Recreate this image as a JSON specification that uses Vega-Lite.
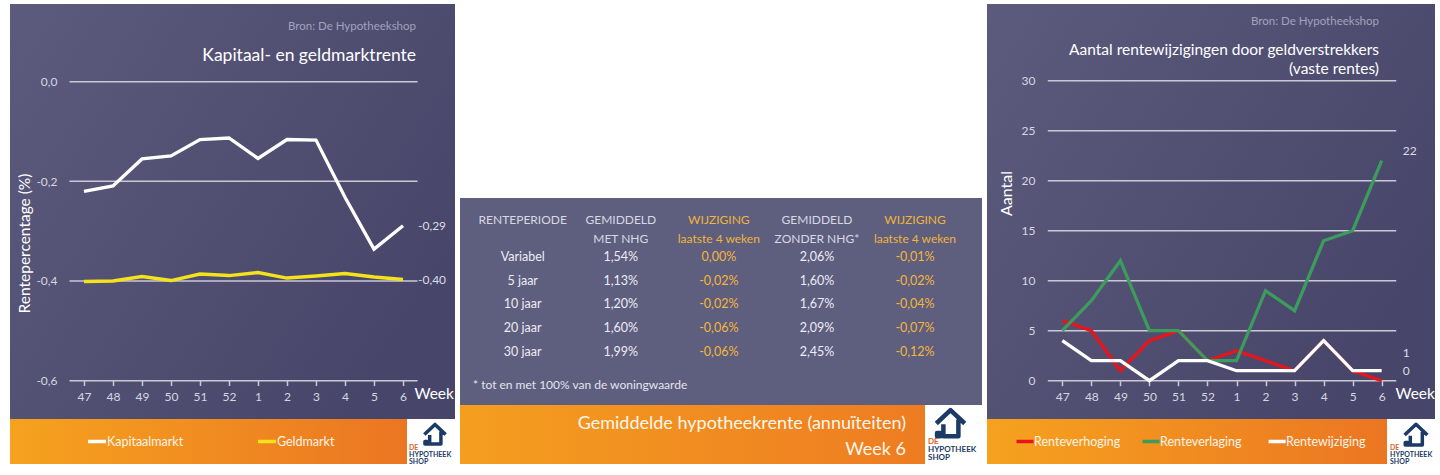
{
  "$schema": "https://vega.github.io/schema/vega-lite/v6.json",
  "background": "#ffffff",
  "padding": {"left": 10, "top": 4, "right": 0, "bottom": 0},
  "spacing": 5,
  "config": {
    "font": "Lato",
    "view": {"stroke": null},
    "legend": {"disable": true},
    "title": {"fontWeight": "normal", "subtitleFontWeight": "normal"},
    "locale": {"number": {"decimal": ",", "thousands": ".", "grouping": [3], "currency": ["€", ""], "minus": "-"}}
  },
  "datasets": {
    "rente": [
      {"week": "47", "reeks": "Kapitaalmarkt", "waarde": -0.220},
      {"week": "48", "reeks": "Kapitaalmarkt", "waarde": -0.209},
      {"week": "49", "reeks": "Kapitaalmarkt", "waarde": -0.155},
      {"week": "50", "reeks": "Kapitaalmarkt", "waarde": -0.149},
      {"week": "51", "reeks": "Kapitaalmarkt", "waarde": -0.116},
      {"week": "52", "reeks": "Kapitaalmarkt", "waarde": -0.113},
      {"week": "1", "reeks": "Kapitaalmarkt", "waarde": -0.154},
      {"week": "2", "reeks": "Kapitaalmarkt", "waarde": -0.116},
      {"week": "3", "reeks": "Kapitaalmarkt", "waarde": -0.117},
      {"week": "4", "reeks": "Kapitaalmarkt", "waarde": -0.232},
      {"week": "5", "reeks": "Kapitaalmarkt", "waarde": -0.336},
      {"week": "6", "reeks": "Kapitaalmarkt", "waarde": -0.289},
      {"week": "47", "reeks": "Geldmarkt", "waarde": -0.401},
      {"week": "48", "reeks": "Geldmarkt", "waarde": -0.400},
      {"week": "49", "reeks": "Geldmarkt", "waarde": -0.391},
      {"week": "50", "reeks": "Geldmarkt", "waarde": -0.399},
      {"week": "51", "reeks": "Geldmarkt", "waarde": -0.386},
      {"week": "52", "reeks": "Geldmarkt", "waarde": -0.389},
      {"week": "1", "reeks": "Geldmarkt", "waarde": -0.383},
      {"week": "2", "reeks": "Geldmarkt", "waarde": -0.394},
      {"week": "3", "reeks": "Geldmarkt", "waarde": -0.390},
      {"week": "4", "reeks": "Geldmarkt", "waarde": -0.385},
      {"week": "5", "reeks": "Geldmarkt", "waarde": -0.392},
      {"week": "6", "reeks": "Geldmarkt", "waarde": -0.397}
    ],
    "wijz": [
      {"week": "47", "reeks": "Renteverhoging", "aantal": 6},
      {"week": "48", "reeks": "Renteverhoging", "aantal": 5},
      {"week": "49", "reeks": "Renteverhoging", "aantal": 1},
      {"week": "50", "reeks": "Renteverhoging", "aantal": 4},
      {"week": "51", "reeks": "Renteverhoging", "aantal": 5},
      {"week": "52", "reeks": "Renteverhoging", "aantal": 2},
      {"week": "1", "reeks": "Renteverhoging", "aantal": 3},
      {"week": "2", "reeks": "Renteverhoging", "aantal": 2},
      {"week": "3", "reeks": "Renteverhoging", "aantal": 1},
      {"week": "4", "reeks": "Renteverhoging", "aantal": 4},
      {"week": "5", "reeks": "Renteverhoging", "aantal": 1},
      {"week": "6", "reeks": "Renteverhoging", "aantal": 0},
      {"week": "47", "reeks": "Renteverlaging", "aantal": 5},
      {"week": "48", "reeks": "Renteverlaging", "aantal": 8},
      {"week": "49", "reeks": "Renteverlaging", "aantal": 12},
      {"week": "50", "reeks": "Renteverlaging", "aantal": 5},
      {"week": "51", "reeks": "Renteverlaging", "aantal": 5},
      {"week": "52", "reeks": "Renteverlaging", "aantal": 2},
      {"week": "1", "reeks": "Renteverlaging", "aantal": 2},
      {"week": "2", "reeks": "Renteverlaging", "aantal": 9},
      {"week": "3", "reeks": "Renteverlaging", "aantal": 7},
      {"week": "4", "reeks": "Renteverlaging", "aantal": 14},
      {"week": "5", "reeks": "Renteverlaging", "aantal": 15},
      {"week": "6", "reeks": "Renteverlaging", "aantal": 22},
      {"week": "47", "reeks": "Rentewijziging", "aantal": 4},
      {"week": "48", "reeks": "Rentewijziging", "aantal": 2},
      {"week": "49", "reeks": "Rentewijziging", "aantal": 2},
      {"week": "50", "reeks": "Rentewijziging", "aantal": 0},
      {"week": "51", "reeks": "Rentewijziging", "aantal": 2},
      {"week": "52", "reeks": "Rentewijziging", "aantal": 2},
      {"week": "1", "reeks": "Rentewijziging", "aantal": 1},
      {"week": "2", "reeks": "Rentewijziging", "aantal": 1},
      {"week": "3", "reeks": "Rentewijziging", "aantal": 1},
      {"week": "4", "reeks": "Rentewijziging", "aantal": 4},
      {"week": "5", "reeks": "Rentewijziging", "aantal": 1},
      {"week": "6", "reeks": "Rentewijziging", "aantal": 1}
    ],
    "kop": [
      {"rij": "kop", "kolom": "periode", "tekst": "RENTEPERIODE"},
      {"rij": "kop", "kolom": "met", "tekst": "GEMIDDELD\nMET NHG"},
      {"rij": "kop", "kolom": "wijz_met", "tekst": "WIJZIGING\nlaatste 4 weken"},
      {"rij": "kop", "kolom": "zonder", "tekst": "GEMIDDELD\nZONDER NHG*"},
      {"rij": "kop", "kolom": "wijz_zonder", "tekst": "WIJZIGING\nlaatste 4 weken"}
    ],
    "tabel": [
      {"rij": "Variabel", "kolom": "periode", "tekst": "Variabel"},
      {"rij": "Variabel", "kolom": "met", "tekst": "1,54%"},
      {"rij": "Variabel", "kolom": "wijz_met", "tekst": "0,00%"},
      {"rij": "Variabel", "kolom": "zonder", "tekst": "2,06%"},
      {"rij": "Variabel", "kolom": "wijz_zonder", "tekst": "-0,01%"},
      {"rij": "5 jaar", "kolom": "periode", "tekst": "5 jaar"},
      {"rij": "5 jaar", "kolom": "met", "tekst": "1,13%"},
      {"rij": "5 jaar", "kolom": "wijz_met", "tekst": "-0,02%"},
      {"rij": "5 jaar", "kolom": "zonder", "tekst": "1,60%"},
      {"rij": "5 jaar", "kolom": "wijz_zonder", "tekst": "-0,02%"},
      {"rij": "10 jaar", "kolom": "periode", "tekst": "10 jaar"},
      {"rij": "10 jaar", "kolom": "met", "tekst": "1,20%"},
      {"rij": "10 jaar", "kolom": "wijz_met", "tekst": "-0,02%"},
      {"rij": "10 jaar", "kolom": "zonder", "tekst": "1,67%"},
      {"rij": "10 jaar", "kolom": "wijz_zonder", "tekst": "-0,04%"},
      {"rij": "20 jaar", "kolom": "periode", "tekst": "20 jaar"},
      {"rij": "20 jaar", "kolom": "met", "tekst": "1,60%"},
      {"rij": "20 jaar", "kolom": "wijz_met", "tekst": "-0,06%"},
      {"rij": "20 jaar", "kolom": "zonder", "tekst": "2,09%"},
      {"rij": "20 jaar", "kolom": "wijz_zonder", "tekst": "-0,07%"},
      {"rij": "30 jaar", "kolom": "periode", "tekst": "30 jaar"},
      {"rij": "30 jaar", "kolom": "met", "tekst": "1,99%"},
      {"rij": "30 jaar", "kolom": "wijz_met", "tekst": "-0,06%"},
      {"rij": "30 jaar", "kolom": "zonder", "tekst": "2,45%"},
      {"rij": "30 jaar", "kolom": "wijz_zonder", "tekst": "-0,12%"}
    ]
  },
  "hconcat": [
    {
      "spacing": 0,
      "vconcat": [
        {
          "width": 445,
          "height": 415,
          "view": {"fill": {"gradient": "linear", "x1": 0, "y1": 0, "x2": 1, "y2": 0.6, "stops": [{"offset": 0, "color": "#5c5b7d"}, {"offset": 1, "color": "#47466a"}]}, "stroke": null},
          "title": {"text": "Bron: De Hypotheekshop", "subtitle": "Kapitaal- en geldmarktrente", "anchor": "end", "dx": -39, "offset": -60, "fontSize": 11.5, "color": "#a2a2ba", "subtitleFontSize": 17.5, "subtitleColor": "#ffffff", "subtitlePadding": 14},
          "encoding": {
            "x": {"field": "week", "type": "ordinal", "sort": null, "scale": {"type": "point", "domain": ["47", "48", "49", "50", "51", "52", "1", "2", "3", "4", "5", "6"], "range": [74, 393], "padding": 0},
              "axis": {"offset": -38.5, "domain": false, "grid": false, "ticks": true, "tickSize": 5, "tickColor": "#c9c9d4", "tickWidth": 1.5, "labelAngle": 0, "labelPadding": 6, "labelColor": "#d6d6e0", "labelFontSize": 12, "title": "Week", "titleColor": "#ffffff", "titleFontSize": 15.5, "titleFontWeight": "normal", "titleX": 404, "titleY": 13, "titleAlign": "left", "titleBaseline": "middle"}},
            "y": {"field": "waarde", "type": "quantitative", "scale": {"domain": [-0.677, 0.156], "nice": false, "zero": false},
              "axis": {"values": [0, -0.2, -0.4, -0.6], "format": ".1f", "offset": -52, "domain": false, "ticks": false, "grid": false, "labelPadding": 5, "labelColor": "#d6d6e0", "labelFontSize": 12, "title": "Rentepercentage (%)", "titleColor": "#ffffff", "titleFontSize": 15.5, "titleFontWeight": "normal", "titleX": -38, "titleY": 239, "titleAngle": -90, "titleAlign": "center", "titleBaseline": "middle"}}
          },
          "layer": [
            {
              "data": {"values": [{"waarde": 0}, {"waarde": -0.2}, {"waarde": -0.4}, {"waarde": -0.6}]},
              "mark": {"type": "rule", "xOffset": -14.5, "x2Offset": 14.5, "color": "#c9c9d4", "strokeWidth": 1.5},
              "encoding": {
                "x": {"datum": "47", "type": "ordinal"},
                "x2": {"datum": "6"}
              }
            },
            {
              "data": {"name": "rente"},
              "mark": {"type": "line", "strokeWidth": 3.3},
              "encoding": {
                "color": {"field": "reeks", "type": "nominal", "scale": {"domain": ["Kapitaalmarkt", "Geldmarkt", "Renteverhoging", "Renteverlaging", "Rentewijziging"], "range": ["#ffffff", "#f4e21a", "#e8141c", "#3d9b5c", "#ffffff"]}}
              }
            },
            {
              "data": {"name": "rente"},
              "transform": [{"filter": "datum.week === '6'"}],
              "mark": {"type": "text", "align": "left", "baseline": "middle", "dx": 15, "fontSize": 12, "color": "#dcdce6"},
              "encoding": {
                "text": {"field": "waarde", "type": "quantitative", "format": ".2f"}
              }
            }
          ]
        },
        {
          "spacing": 0,
          "hconcat": [
            {
              "width": 397,
              "height": 45,
              "view": {"fill": {"gradient": "linear", "x1": 0, "y1": 0, "x2": 1, "y2": 0, "stops": [{"offset": 0, "color": "#f6a21e"}, {"offset": 1, "color": "#eb7622"}]}, "stroke": null},
              "data": {"values": [{"reeks": "Kapitaalmarkt"}, {"reeks": "Geldmarkt"}]},
              "encoding": {"x": {"field": "reeks", "type": "nominal", "sort": null, "scale": {"type": "point", "domain": ["Kapitaalmarkt", "Geldmarkt"], "padding": 0.668, "align": 0.383}, "axis": null}},
              "layer": [
                {"mark": {"type": "point", "shape": "stroke", "size": 324, "strokeWidth": 3.5, "opacity": 1},
                 "encoding": {"color": {"field": "reeks", "type": "nominal", "scale": {"domain": ["Kapitaalmarkt", "Geldmarkt", "Renteverhoging", "Renteverlaging", "Rentewijziging"], "range": ["#ffffff", "#f4e21a", "#e8141c", "#3d9b5c", "#ffffff"]}}}},
                {"mark": {"type": "text", "align": "left", "baseline": "middle", "dx": 10, "fontSize": 12.5, "color": "#fff4e8"},
                 "encoding": {"text": {"field": "reeks", "type": "nominal"}}}
              ]
            },
            {
              "width": 48,
              "height": 45,
              "view": {"fill": "#ffffff", "stroke": null},
              "data": {"values": [{"merk": "De Hypotheekshop"}]},
              "title": {"text": "DE", "subtitle": ["HYPOTHEEK", "SHOP"], "orient": "bottom", "anchor": "start", "dx": 2, "offset": -20, "fontSize": 7, "fontWeight": "bold", "color": "#e0622a", "subtitleFontSize": 7, "subtitleFontWeight": "bold", "subtitleColor": "#1c3a66", "subtitlePadding": 0, "subtitleLineHeight": 6.5},
              "mark": {"type": "point", "shape": "M-0.9,0 L0,-0.85 L0.9,0 M-0.45,0.05 L-0.45,0.8 L0.5,0.8 L0.5,-0.25 M-0.85,0.6 L-0.65,0.6 L-0.65,0.8 L-0.85,0.8 Z", "size": 560, "filled": false, "strokeWidth": 3.5, "strokeJoin": "round", "color": "#1c3a66", "opacity": 1, "xOffset": 4, "yOffset": -7}
            }
          ]
        }
      ]
    },
    {
      "spacing": 0,
      "vconcat": [
        {
          "width": 522,
          "height": 194,
          "data": {"values": []},
          "mark": "text"
        },
        {
          "width": 522,
          "height": 207,
          "view": {"fill": "#5e5e7f", "stroke": null},
          "title": {"text": "* tot en met 100% van de woningwaarde", "orient": "bottom", "anchor": "start", "dx": 13, "offset": -25, "fontSize": 12, "color": "#e4e4ee"},
          "layer": [
            {
              "data": {"name": "kop"},
              "mark": {"type": "text", "baseline": "top", "dy": -19, "lineBreak": "\n", "lineHeight": 19, "fontSize": 12},
              "encoding": {
                "x": {"field": "kolom", "type": "nominal", "sort": null, "scale": {"type": "point", "domain": ["periode", "met", "wijz_met", "zonder", "wijz_zonder"], "range": [62.7, 455], "padding": 0}, "axis": null},
                "y": {"field": "rij", "type": "nominal", "sort": null, "scale": {"type": "point", "domain": ["kop", "Variabel", "5 jaar", "10 jaar", "20 jaar", "30 jaar"], "range": [35.9, 153.5], "padding": 0}, "axis": null},
                "text": {"field": "tekst", "type": "nominal"},
                "color": {"condition": {"test": "indexof(datum.kolom, 'wijz') === 0", "value": "#f1b43a"}, "value": "#d8d8e2"}
              }
            },
            {
              "data": {"name": "tabel"},
              "mark": {"type": "text", "baseline": "middle", "fontSize": 12.5},
              "encoding": {
                "x": {"field": "kolom", "type": "nominal", "sort": null, "axis": null},
                "y": {"field": "rij", "type": "nominal", "sort": null, "axis": null},
                "text": {"field": "tekst", "type": "nominal"},
                "color": {"condition": {"test": "indexof(datum.kolom, 'wijz') === 0", "value": "#f3b63a"}, "value": "#ececf3"}
              }
            }
          ]
        },
        {
          "spacing": 0,
          "hconcat": [
            {
              "width": 465,
              "height": 59,
              "view": {"fill": {"gradient": "linear", "x1": 0, "y1": 0, "x2": 1, "y2": 0, "stops": [{"offset": 0, "color": "#f49e1f"}, {"offset": 1, "color": "#ee7c22"}]}, "stroke": null},
              "title": {"text": "Gemiddelde hypotheekrente (annuïteiten)", "subtitle": "Week 6", "anchor": "end", "dx": -19, "offset": -54, "fontSize": 18, "color": "#fff6ea", "subtitleFontSize": 18, "subtitleColor": "#fff6ea", "subtitlePadding": 8},
              "data": {"values": []},
              "mark": "text"
            },
            {
              "width": 57,
              "height": 59,
              "view": {"fill": "#ffffff", "stroke": null},
              "data": {"values": [{"merk": "De Hypotheekshop"}]},
              "title": {"text": "DE", "subtitle": ["HYPOTHEEK", "SHOP"], "orient": "bottom", "anchor": "start", "dx": 3, "offset": -26, "fontSize": 8, "fontWeight": "bold", "color": "#e0622a", "subtitleFontSize": 8, "subtitleFontWeight": "bold", "subtitleColor": "#1c3a66", "subtitlePadding": 0, "subtitleLineHeight": 7.5},
              "mark": {"type": "point", "shape": "M-0.9,0 L0,-0.85 L0.9,0 M-0.45,0.05 L-0.45,0.8 L0.5,0.8 L0.5,-0.25 M-0.85,0.6 L-0.65,0.6 L-0.65,0.8 L-0.85,0.8 Z", "size": 1000, "filled": false, "strokeWidth": 4.5, "strokeJoin": "round", "color": "#1c3a66", "opacity": 1, "xOffset": -3, "yOffset": -11}
            }
          ]
        }
      ]
    },
    {
      "spacing": 0,
      "vconcat": [
        {
          "width": 448,
          "height": 415,
          "view": {"fill": {"gradient": "linear", "x1": 0, "y1": 0, "x2": 1, "y2": 0.6, "stops": [{"offset": 0, "color": "#5c5b7d"}, {"offset": 1, "color": "#47466a"}]}, "stroke": null},
          "title": {"text": "Bron: De Hypotheekshop", "subtitle": ["Aantal rentewijzigingen door geldverstrekkers", "(vaste rentes)"], "anchor": "end", "dx": -56, "offset": -73, "fontSize": 11.5, "color": "#a2a2ba", "subtitleFontSize": 15.5, "subtitleColor": "#ffffff", "subtitlePadding": 15, "subtitleLineHeight": 19},
          "encoding": {
            "x": {"field": "week", "type": "ordinal", "sort": null, "scale": {"type": "point", "domain": ["47", "48", "49", "50", "51", "52", "1", "2", "3", "4", "5", "6"], "range": [75.3, 394.7], "padding": 0},
              "axis": {"offset": -38.3, "domain": false, "grid": false, "ticks": true, "tickSize": 5, "tickColor": "#c9c9d4", "tickWidth": 1.5, "labelAngle": 0, "labelPadding": 6, "labelColor": "#d6d6e0", "labelFontSize": 12, "title": "Week", "titleColor": "#ffffff", "titleFontSize": 15.5, "titleFontWeight": "normal", "titleX": 408, "titleY": 12.5, "titleAlign": "left", "titleBaseline": "middle"}},
            "y": {"field": "aantal", "type": "quantitative", "scale": {"domain": [-3.83, 37.67], "nice": false, "zero": false},
              "axis": {"values": [0, 5, 10, 15, 20, 25, 30], "format": "d", "offset": -53, "domain": false, "ticks": false, "grid": false, "labelPadding": 5, "labelColor": "#d6d6e0", "labelFontSize": 12, "title": "Aantal", "titleColor": "#ffffff", "titleFontSize": 16, "titleFontWeight": "normal", "titleX": -34, "titleY": 189, "titleAngle": -90, "titleAlign": "center", "titleBaseline": "middle"}}
          },
          "layer": [
            {
              "data": {"values": [{"aantal": 0}, {"aantal": 5}, {"aantal": 10}, {"aantal": 15}, {"aantal": 20}, {"aantal": 25}, {"aantal": 30}]},
              "mark": {"type": "rule", "xOffset": -14.5, "x2Offset": 14.5, "color": "#c9c9d4", "strokeWidth": 1.5},
              "encoding": {
                "x": {"datum": "47", "type": "ordinal"},
                "x2": {"datum": "6"}
              }
            },
            {
              "data": {"name": "wijz"},
              "mark": {"type": "line", "strokeWidth": 3.3},
              "encoding": {
                "color": {"field": "reeks", "type": "nominal", "scale": {"domain": ["Kapitaalmarkt", "Geldmarkt", "Renteverhoging", "Renteverlaging", "Rentewijziging"], "range": ["#ffffff", "#f4e21a", "#e8141c", "#3d9b5c", "#ffffff"]}}
              }
            },
            {
              "data": {"name": "wijz"},
              "transform": [{"filter": "datum.week === '6' && datum.reeks !== 'Rentewijziging'"}],
              "mark": {"type": "text", "align": "left", "baseline": "middle", "dx": 21, "dy": -10, "fontSize": 12, "color": "#dcdce6"},
              "encoding": {
                "text": {"field": "aantal", "type": "quantitative", "format": "d"}
              }
            },
            {
              "data": {"name": "wijz"},
              "transform": [{"filter": "datum.week === '6' && datum.reeks === 'Rentewijziging'"}],
              "mark": {"type": "text", "align": "left", "baseline": "middle", "dx": 21, "dy": -18, "fontSize": 12, "color": "#dcdce6"},
              "encoding": {
                "text": {"field": "aantal", "type": "quantitative", "format": "d"}
              }
            }
          ]
        },
        {
          "spacing": 0,
          "hconcat": [
            {
              "width": 400,
              "height": 45,
              "view": {"fill": {"gradient": "linear", "x1": 0, "y1": 0, "x2": 1, "y2": 0, "stops": [{"offset": 0, "color": "#f6a21e"}, {"offset": 1, "color": "#eb7622"}]}, "stroke": null},
              "data": {"values": [{"reeks": "Renteverhoging"}, {"reeks": "Renteverlaging"}, {"reeks": "Rentewijziging"}]},
              "encoding": {"x": {"field": "reeks", "type": "nominal", "sort": null, "scale": {"type": "point", "domain": ["Renteverhoging", "Renteverlaging", "Rentewijziging"], "padding": 0.587, "align": 0.257}, "axis": null}},
              "layer": [
                {"mark": {"type": "point", "shape": "stroke", "size": 289, "strokeWidth": 3.5, "opacity": 1},
                 "encoding": {"color": {"field": "reeks", "type": "nominal", "scale": {"domain": ["Kapitaalmarkt", "Geldmarkt", "Renteverhoging", "Renteverlaging", "Rentewijziging"], "range": ["#ffffff", "#f4e21a", "#e8141c", "#3d9b5c", "#ffffff"]}}}},
                {"mark": {"type": "text", "align": "left", "baseline": "middle", "dx": 9, "fontSize": 12.5, "color": "#fff4e8"},
                 "encoding": {"text": {"field": "reeks", "type": "nominal"}}}
              ]
            },
            {
              "width": 48,
              "height": 45,
              "view": {"fill": "#ffffff", "stroke": null},
              "data": {"values": [{"merk": "De Hypotheekshop"}]},
              "title": {"text": "DE", "subtitle": ["HYPOTHEEK", "SHOP"], "orient": "bottom", "anchor": "start", "dx": 3, "offset": -20, "fontSize": 7, "fontWeight": "bold", "color": "#e0622a", "subtitleFontSize": 7, "subtitleFontWeight": "bold", "subtitleColor": "#1c3a66", "subtitlePadding": 0, "subtitleLineHeight": 6.5},
              "mark": {"type": "point", "shape": "M-0.9,0 L0,-0.85 L0.9,0 M-0.45,0.05 L-0.45,0.8 L0.5,0.8 L0.5,-0.25 M-0.85,0.6 L-0.65,0.6 L-0.65,0.8 L-0.85,0.8 Z", "size": 640, "filled": false, "strokeWidth": 3.5, "strokeJoin": "round", "color": "#1c3a66", "opacity": 1, "xOffset": 5, "yOffset": -6.5}
            }
          ]
        }
      ]
    }
  ]
}
